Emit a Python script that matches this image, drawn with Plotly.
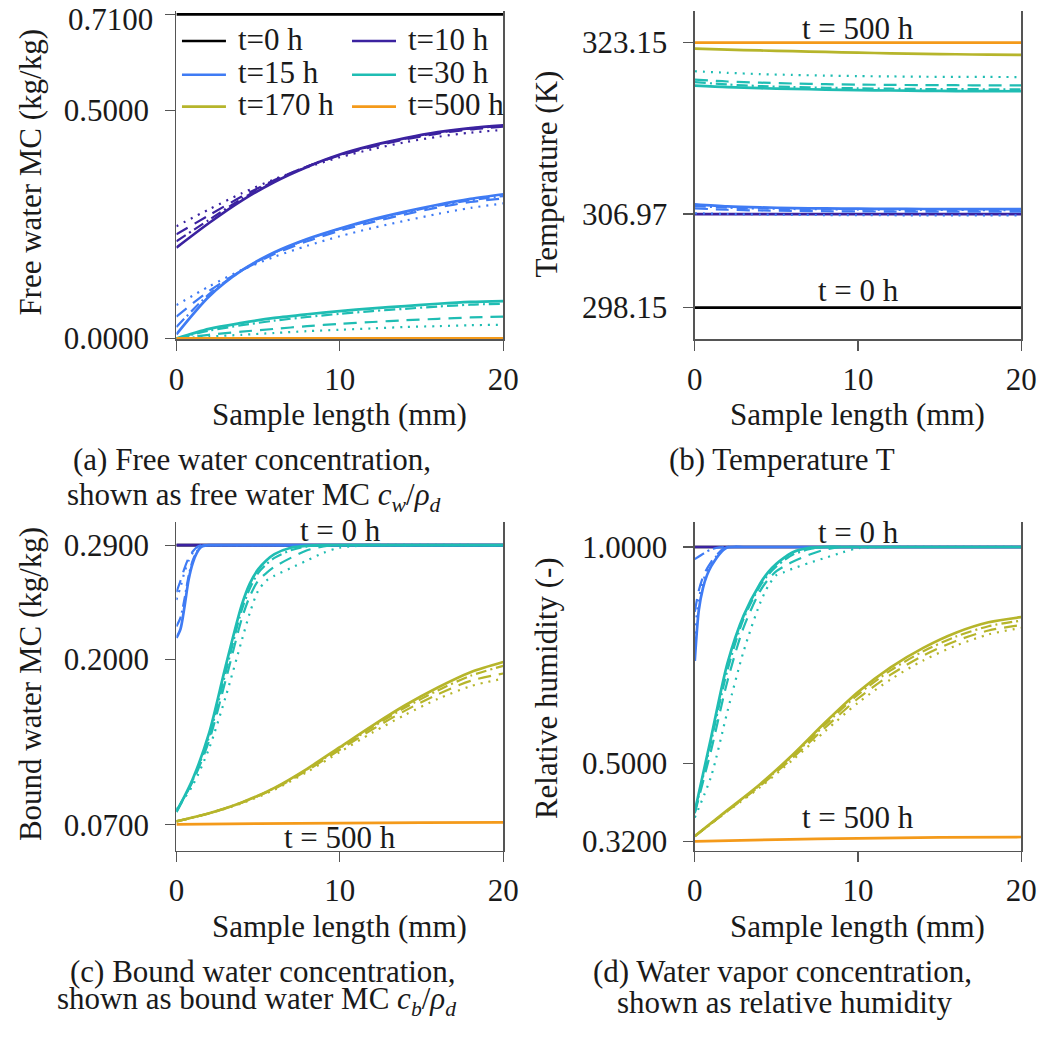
import plotly.graph_objects as go

W, H = 1059, 1040
FONT = "Liberation Serif"
INK = "#1a1a1a"
AXIS = "#555555"

# ---------------------------------------------------------------- data
TIMES = ["t=0 h", "t=10 h", "t=15 h", "t=30 h", "t=170 h", "t=500 h"]
COLORS = ["#000000", "#3b22a0", "#3f7bf4", "#1fbdb3", "#b6b52b", "#f49a1a"]

# sample positions (mm)
x_ends = [0, 20]
x_quarter = [0, 5, 10, 15, 20]
x_even = [0, 2, 4, 6, 8, 10, 12, 14, 16, 18, 20]
x_fast = [0, 0.25, 0.5, 0.75, 1, 1.25, 1.5, 1.75, 2, 3, 20]
x_knee = [0, 1, 2, 3, 4, 4.5, 5, 5.5, 6, 7, 8, 9, 10, 12, 20]

# (a) free water moisture content (kg/kg)
fw0 = [0.71, 0.71]
fw10_solid = [0.199, 0.253, 0.302, 0.343, 0.376, 0.403, 0.423, 0.439, 0.452, 0.461, 0.467]
fw10_dashdot = [0.213, 0.260, 0.306, 0.345, 0.377, 0.402, 0.422, 0.438, 0.451, 0.460, 0.466]
fw10_dash = [0.228, 0.270, 0.311, 0.347, 0.377, 0.401, 0.420, 0.436, 0.449, 0.458, 0.464]
fw10_dot = [0.246, 0.283, 0.318, 0.349, 0.375, 0.397, 0.415, 0.430, 0.442, 0.451, 0.457]
fw15_solid = [0.009, 0.092, 0.149, 0.189, 0.218, 0.241, 0.261, 0.278, 0.293, 0.306, 0.316]
fw15_dashdot = [0.025, 0.097, 0.149, 0.188, 0.217, 0.240, 0.259, 0.276, 0.291, 0.303, 0.312]
fw15_dash = [0.048, 0.104, 0.149, 0.185, 0.213, 0.236, 0.255, 0.272, 0.287, 0.299, 0.307]
fw15_dot = [0.073, 0.114, 0.150, 0.179, 0.203, 0.224, 0.242, 0.258, 0.273, 0.286, 0.296]
fw30_solid = [0.000, 0.021, 0.034, 0.045, 0.053, 0.060, 0.066, 0.071, 0.076, 0.080, 0.082]
fw30_dashdot = [0.000, 0.017, 0.029, 0.039, 0.047, 0.054, 0.060, 0.065, 0.070, 0.074, 0.076]
fw30_dash = [0.000, 0.008, 0.015, 0.021, 0.027, 0.032, 0.036, 0.040, 0.043, 0.046, 0.048]
fw30_dot = [0.000, 0.004, 0.008, 0.012, 0.016, 0.019, 0.022, 0.025, 0.027, 0.029, 0.030]
fw170 = [0.0, 0.0]
fw500 = [0.0, 0.0]

# (b) temperature (K)
tb0 = [298.15, 298.15]
tb10 = [306.97, 306.97]
tb15_solid = [307.89, 307.70, 307.60, 307.54, 307.50, 307.48, 307.46, 307.45, 307.44, 307.43, 307.43]
tb15_dashdot = [307.72, 307.58, 307.50, 307.45, 307.42, 307.40, 307.38, 307.37, 307.36, 307.35, 307.35]
tb15_dash = [307.50, 307.38, 307.31, 307.27, 307.24, 307.22, 307.21, 307.20, 307.19, 307.19, 307.19]
tb15_dot = [307.05, 306.98, 306.93, 306.90, 306.88, 306.87, 306.86, 306.85, 306.85, 306.85, 306.85]
tb30_solid = [319.10, 318.95, 318.85, 318.78, 318.72, 318.67, 318.63, 318.60, 318.58, 318.57, 318.56]
tb30_dashdot = [319.43, 319.20, 319.05, 318.96, 318.89, 318.84, 318.80, 318.77, 318.76, 318.75, 318.74]
tb30_dash = [319.65, 319.48, 319.37, 319.29, 319.23, 319.19, 319.16, 319.14, 319.13, 319.12, 319.12]
tb30_dot = [320.45, 320.30, 320.18, 320.10, 320.04, 319.99, 319.96, 319.93, 319.92, 319.91, 319.90]
tb170 = [322.58, 322.49, 322.41, 322.34, 322.27, 322.20, 322.14, 322.09, 322.05, 322.01, 321.99]
tb500 = [323.15, 323.15]

# (c) bound water moisture content (kg/kg)
cb0 = [0.29, 0.29]
cb10 = [0.29, 0.29]
cb15_solid = [0.217, 0.224, 0.242, 0.263, 0.276, 0.284, 0.2885, 0.2897, 0.290, 0.290, 0.290]
cb15_dashdot = [0.226, 0.233, 0.248, 0.266, 0.278, 0.285, 0.289, 0.290, 0.290, 0.290, 0.290]
cb15_dash = [0.253, 0.262, 0.272, 0.280, 0.285, 0.2885, 0.2898, 0.290, 0.290, 0.290, 0.290]
cb15_dot = [0.247, 0.257, 0.269, 0.278, 0.284, 0.288, 0.2895, 0.290, 0.290, 0.290, 0.290]
cb30_solid = [0.080, 0.106, 0.142, 0.194, 0.243, 0.260, 0.271, 0.278, 0.283, 0.288, 0.2895, 0.290, 0.290, 0.290, 0.290]
cb30_dashdot = [0.080, 0.105, 0.139, 0.189, 0.239, 0.256, 0.268, 0.275, 0.280, 0.286, 0.289, 0.290, 0.290, 0.290, 0.290]
cb30_dash = [0.081, 0.104, 0.136, 0.183, 0.232, 0.250, 0.262, 0.268, 0.273, 0.280, 0.286, 0.289, 0.290, 0.290, 0.290]
cb30_dot = [0.082, 0.101, 0.130, 0.170, 0.215, 0.237, 0.254, 0.262, 0.266, 0.272, 0.278, 0.284, 0.288, 0.290, 0.290]
cb170_solid = [0.0726, 0.0790, 0.0875, 0.0990, 0.1140, 0.1310, 0.1480, 0.1640, 0.1780, 0.1900, 0.1980]
cb170_dashdot = [0.0726, 0.0790, 0.0875, 0.0988, 0.1135, 0.1302, 0.1468, 0.1622, 0.1757, 0.1872, 0.1950]
cb170_dash = [0.0726, 0.0790, 0.0873, 0.0983, 0.1127, 0.1290, 0.1450, 0.1598, 0.1727, 0.1832, 0.1890]
cb170_dot = [0.0726, 0.0788, 0.0868, 0.0975, 0.1115, 0.1272, 0.1425, 0.1565, 0.1690, 0.1790, 0.1850]
cb500 = [0.0703, 0.0708, 0.0713, 0.0716, 0.0718]

# (d) relative humidity (-)
rh0 = [1.0, 1.0]
rh10 = [1.0, 1.0]
rh15_solid = [0.737, 0.855, 0.905, 0.935, 0.955, 0.970, 0.983, 0.993, 0.999, 1.0, 1.0]
rh15_dashdot = [0.972, 0.978, 0.984, 0.990, 0.994, 0.997, 0.999, 1.0, 1.0, 1.0, 1.0]
rh15_dash = [0.850, 0.900, 0.930, 0.950, 0.965, 0.978, 0.988, 0.996, 1.0, 1.0, 1.0]
rh15_dot = [0.800, 0.880, 0.920, 0.945, 0.962, 0.975, 0.986, 0.994, 1.0, 1.0, 1.0]
rh30_solid = [0.389, 0.560, 0.731, 0.842, 0.915, 0.942, 0.961, 0.976, 0.988, 0.998, 1.0, 1.0, 1.0, 1.0, 1.0]
rh30_dashdot = [0.387, 0.550, 0.715, 0.835, 0.910, 0.936, 0.955, 0.970, 0.982, 0.995, 1.0, 1.0, 1.0, 1.0, 1.0]
rh30_dash = [0.385, 0.530, 0.690, 0.815, 0.898, 0.925, 0.944, 0.956, 0.966, 0.982, 0.994, 1.0, 1.0, 1.0, 1.0]
rh30_dot = [0.375, 0.470, 0.620, 0.760, 0.870, 0.910, 0.935, 0.942, 0.950, 0.963, 0.975, 0.987, 0.997, 1.0, 1.0]
rh170_solid = [0.332, 0.392, 0.452, 0.520, 0.595, 0.665, 0.722, 0.767, 0.802, 0.826, 0.838]
rh170_dashdot = [0.332, 0.391, 0.450, 0.517, 0.590, 0.659, 0.715, 0.759, 0.793, 0.817, 0.830]
rh170_dash = [0.332, 0.390, 0.448, 0.513, 0.583, 0.650, 0.705, 0.749, 0.783, 0.807, 0.820]
rh170_dot = [0.332, 0.389, 0.445, 0.508, 0.575, 0.640, 0.694, 0.738, 0.772, 0.798, 0.813]
rh500 = [0.320, 0.324, 0.327, 0.329, 0.330]

# ---------------------------------------------------------------- styles
LINE_STYLES = {
    "dot": dict(dash="2px,6px", width=2.2),
    "dash": dict(dash="13px,8px", width=2.2),
    "dashdot": dict(dash="11px,4px,2px,4px", width=2.2),
    "solid": dict(dash="solid", width=2.7),
}


def px_x(p):
    return p / W


def px_y(p):
    return 1 - p / H


# plot rectangles in pixels: left, right, top, bottom
BOXES = {
    "a": (172.3, 506.7, 11, 345),
    "b": (702.7, 1036.7, 11, 345),
    "c": (172.3, 506.7, 531, 865),
    "d": (702.7, 1036.7, 531, 865),
}
AXES = {"a": ("x", "y"), "b": ("x2", "y2"), "c": ("x3", "y3"), "d": ("x4", "y4")}

# each panel: list of (time index, x, {style: values})
PANELS = {
    "a": [
        (0, x_ends, {"solid": fw0}),
        (1, x_even, {"dot": fw10_dot, "dash": fw10_dash, "dashdot": fw10_dashdot, "solid": fw10_solid}),
        (2, x_even, {"dot": fw15_dot, "dash": fw15_dash, "dashdot": fw15_dashdot, "solid": fw15_solid}),
        (3, x_even, {"dot": fw30_dot, "dash": fw30_dash, "dashdot": fw30_dashdot, "solid": fw30_solid}),
        (4, x_ends, {"solid": fw170}),
        (5, x_ends, {"solid": fw500}),
    ],
    "b": [
        (0, x_ends, {"solid": tb0}),
        (1, x_ends, {"solid": tb10}),
        (2, x_even, {"dot": tb15_dot, "dash": tb15_dash, "dashdot": tb15_dashdot, "solid": tb15_solid}),
        (3, x_even, {"dot": tb30_dot, "dash": tb30_dash, "dashdot": tb30_dashdot, "solid": tb30_solid}),
        (4, x_even, {"solid": tb170}),
        (5, x_ends, {"solid": tb500}),
    ],
    "c": [
        (0, x_ends, {"solid": cb0}),
        (1, x_ends, {"solid": cb10}),
        (2, x_fast, {"dot": cb15_dot, "dash": cb15_dash, "dashdot": cb15_dashdot, "solid": cb15_solid}),
        (3, x_knee, {"dot": cb30_dot, "dash": cb30_dash, "dashdot": cb30_dashdot, "solid": cb30_solid}),
        (4, x_even, {"dot": cb170_dot, "dash": cb170_dash, "dashdot": cb170_dashdot, "solid": cb170_solid}),
        (5, x_quarter, {"solid": cb500}),
    ],
    "d": [
        (0, x_ends, {"solid": rh0}),
        (1, x_ends, {"solid": rh10}),
        (2, x_fast, {"dot": rh15_dot, "dash": rh15_dash, "dashdot": rh15_dashdot, "solid": rh15_solid}),
        (3, x_knee, {"dot": rh30_dot, "dash": rh30_dash, "dashdot": rh30_dashdot, "solid": rh30_solid}),
        (4, x_even, {"dot": rh170_dot, "dash": rh170_dash, "dashdot": rh170_dashdot, "solid": rh170_solid}),
        (5, x_quarter, {"solid": rh500}),
    ],
}

Y_RANGES = {
    "a": [-0.002, 0.718],
    "b": [295.15, 326.15],
    "c": [0.0494, 0.308],
    "d": [0.298, 1.057],
}
# tick values, and the label text drawn by the axis itself; the topmost
# label of (a) sits against the page edge and is placed as an annotation
Y_TICKS = {
    "a": ([0.0, 0.5, 0.71], ["0.0000", "0.5000", ""]),
    "b": ([298.15, 306.97, 323.15], ["298.15", "306.97", "323.15"]),
    "c": ([0.07, 0.2, 0.29], ["0.0700", "0.2000", "0.2900"]),
    "d": ([0.32, 0.5, 1.0], ["0.3200", "0.5000", "1.0000"]),
}

fig = go.Figure()

for key, series in PANELS.items():
    xa, ya = AXES[key]
    for ti, xs, variants in series:
        for style, ys in variants.items():
            st = LINE_STYLES[style]
            fig.add_trace(go.Scatter(
                x=xs, y=ys, mode="lines", xaxis=xa, yaxis=ya,
                line=dict(color=COLORS[ti], width=st["width"], dash=st["dash"],
                          shape="spline", smoothing=0.8),
                showlegend=False, hoverinfo="skip",
            ))

tick_font = dict(family=FONT, size=31, color=INK)
layout_axes = {}
for i, key in enumerate(["a", "b", "c", "d"]):
    l, r, t, b = BOXES[key]
    sfx = "" if i == 0 else str(i + 1)
    layout_axes["xaxis" + sfx] = dict(
        domain=[px_x(l), px_x(r)], anchor="y" + sfx, range=[0, 20],
        tickvals=[0, 10, 20], ticks="outside", ticklen=10, tickwidth=1.3,
        tickcolor=AXIS, showline=True, linecolor=AXIS, linewidth=1.3,
        showgrid=False, zeroline=False, tickfont=tick_font,
        ticklabelstandoff=2, fixedrange=True,
    )
    vals, labels = Y_TICKS[key]
    layout_axes["yaxis" + sfx] = dict(
        domain=[px_y(b), px_y(t)], anchor="x" + sfx, range=Y_RANGES[key],
        tickvals=vals, ticktext=labels, ticks="outside", ticklen=10,
        tickwidth=1.3, tickcolor=AXIS, showline=True, mirror=True,
        linecolor=AXIS, linewidth=1.3, showgrid=False, zeroline=False,
        tickfont=tick_font, ticklabelstandoff=10, fixedrange=True,
    )

annotations = []


def text(s, x, y, angle=0, xanchor="center", yanchor="middle"):
    annotations.append(dict(
        text=s, x=px_x(x), y=px_y(y), xref="paper", yref="paper",
        showarrow=False, textangle=angle, xanchor=xanchor, yanchor=yanchor,
        font=dict(family=FONT, size=31, color=INK),
    ))


# top tick label of (a)
text("0.7100", 150, 0.5, xanchor="right", yanchor="top")

# axis titles
for cx in (339.5, 869.7):
    text("Sample length (mm)", cx, 421.5)
    text("Sample length (mm)", cx, 941.5)
text("Free water MC (kg/kg)", 23, 175, angle=-90)
text("Temperature (K)", 551, 177, angle=-90)
text("Bound water MC (kg/kg)", 23, 695, angle=-90)
text("Relative humidity (-)", 551, 700, angle=-90)

# time labels inside panels
text("t = 500 h", 870, 28.5)
text("t = 0 h", 870, 295.5)
text("t = 0 h", 340, 539.5)
text("t = 500 h", 340, 851)
text("t = 0 h", 870, 541.5)
text("t = 500 h", 870, 831.5)

# sub-figure captions
text("(a) Free water concentration,", 250, 467.5)
text("shown as free water MC <i>c<sub>w</sub></i>/<i>ρ<sub>d</sub></i>", 252, 505)
text("(b) Temperature T", 792, 467.5)
text("(c) Bound water concentration,", 261, 987.5)
text("shown as bound water MC <i>c<sub>b</sub></i>/<i>ρ<sub>d</sub></i>", 254, 1039.5,
     yanchor="bottom")
text("(d) Water vapor concentration,", 792, 987.5)
text("shown as relative humidity", 794, 1038.5, yanchor="bottom")

# legend (two columns, three rows) inside panel (a)
shapes = []
LEG_COLS = [(178, 223, 233), (352, 397, 407)]
LEG_ROWS = [41.7, 76, 108.3]
for k, (label, color) in enumerate(zip(TIMES, COLORS)):
    x0, x1, xt = LEG_COLS[k % 2]
    yy = LEG_ROWS[k // 2]
    shapes.append(dict(type="line", xref="paper", yref="paper",
                       x0=px_x(x0), x1=px_x(x1), y0=px_y(yy), y1=px_y(yy),
                       line=dict(color=color, width=2.7)))
    text(label, xt, yy - 2, xanchor="left")

fig.update_layout(
    width=W, height=H, margin=dict(l=0, r=0, t=0, b=0),
    paper_bgcolor="white", plot_bgcolor="white",
    annotations=annotations, shapes=shapes, showlegend=False,
    dragmode=False,
    **layout_axes,
)

# static figure: no interactive drag handles around the subplots
fig.write_html("out.html", config={"staticPlot": True, "displayModeBar": False})
